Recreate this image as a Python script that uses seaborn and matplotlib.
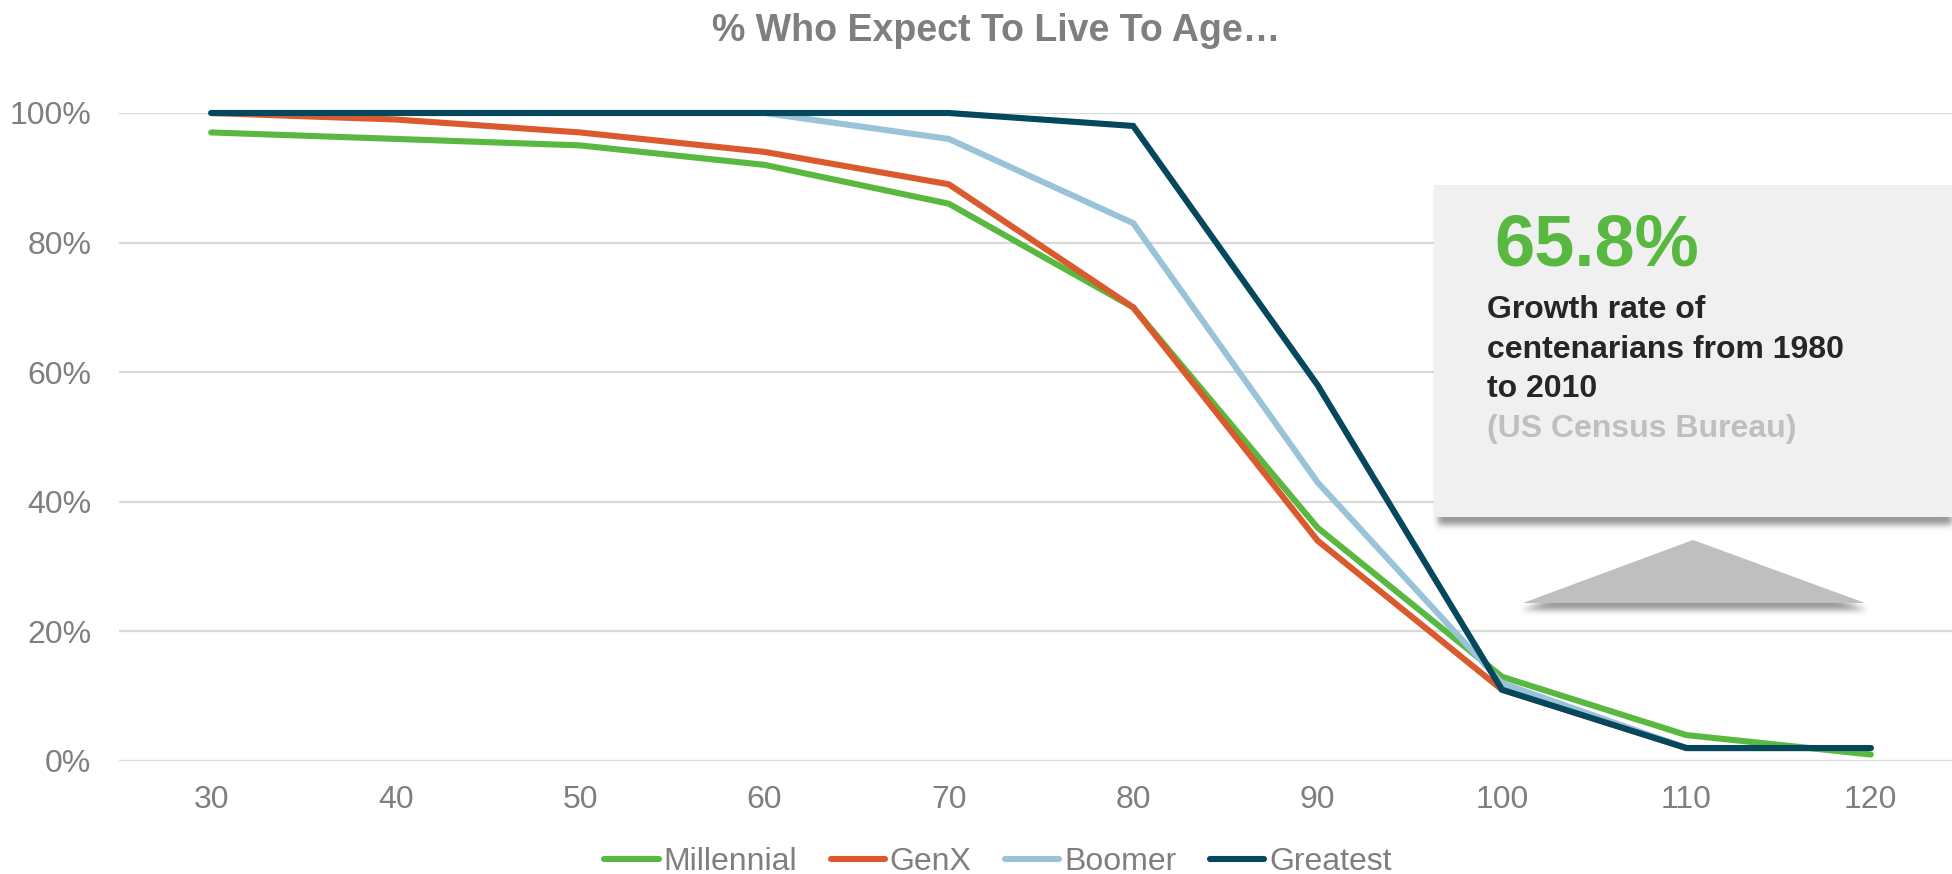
import matplotlib
matplotlib.use("Agg")
import matplotlib.pyplot as plt
from matplotlib.lines import Line2D
from matplotlib.patches import Rectangle, Polygon
import seaborn as sns
import pandas as pd
import numpy as np

# Survey data: share (%) of each generation who expect to live to a given age
ages = [30, 40, 50, 60, 70, 80, 90, 100, 110, 120]
millennial = [97, 96, 95, 92, 86, 70, 36, 13, 4, 1]
genx = [100, 99, 97, 94, 89, 70, 34, 11, 2, 2]
boomer = [100, 100, 100, 100, 96, 83, 43, 12, 2, 2]
greatest = [100, 100, 100, 100, 100, 98, 58, 11, 2, 2]

generations = ["Millennial", "GenX", "Boomer", "Greatest"]
colors = ["#58B83F", "#DA5A2E", "#98C3D8", "#05475C"]
yticks = [0, 20, 40, 60, 80, 100]

title = "% Who Expect To Live To Age\u2026"
callout_value = "65.8%"
callout_lines = ["Growth rate of", "centenarians from 1980", "to 2010"]
callout_source = "(US Census Bureau)"

df = pd.DataFrame({
    "age": ages * 4,
    "pct": millennial + genx + boomer + greatest,
    "generation": sum([[g] * len(ages) for g in generations], []),
})

sns.set_theme(style="white")
plt.rcParams["font.family"] = ["Liberation Sans", "DejaVu Sans"]

W, H = 1952, 874
fig = plt.figure(figsize=(W / 100, H / 100), dpi=100)


def fx(x):
    return x / W


def fy(y):
    return 1 - y / H


LW = 4.4
ax = fig.add_axes([fx(119), fy(761), (1963 - 119) / W, (761 - 113) / H])
palette = dict(zip(generations, colors))
sns.lineplot(data=df, x="age", y="pct", hue="generation", hue_order=generations,
             palette=palette, sort=False, linewidth=LW, legend=False, ax=ax,
             solid_capstyle="round", solid_joinstyle="miter", clip_on=False, zorder=3)

ax.set_xlim(25, 125)
ax.set_ylim(0, 100)
ax.set_xticks(ages)
ax.set_xticklabels([str(a) for a in ages])
ax.set_yticks(yticks)
ax.set_yticklabels([f"{v}%" for v in yticks])
ax.set_xlabel("")
ax.set_ylabel("")
for s in ax.spines.values():
    s.set_visible(False)
ax.grid(axis="y", color="#D9D9D9", linewidth=1.6)
ax.grid(axis="x", visible=False)
ax.set_axisbelow(True)
ax.tick_params(axis="both", length=0, labelsize=23, labelcolor="#7F7F7F")
ax.tick_params(axis="x", pad=17)
ax.tick_params(axis="y", pad=20)

# Title
fig.text(fx(996), fy(41), title, ha="center", va="baseline", fontsize=27,
         fontweight="bold", color="#7F7F7F")

# Legend
handles = [Line2D([], [], color=c, linewidth=LW, solid_capstyle="round") for c in colors]
fig.legend(handles, generations, loc="center", bbox_to_anchor=(fx(998), fy(862)),
           ncol=4, frameon=False, fontsize=23, labelcolor="#7F7F7F",
           handlelength=1.7, handletextpad=0.15, columnspacing=1.05,
           borderaxespad=0, borderpad=0)

# Soft drop shadows for the callout panel and the arrowhead
bx0, by0, bx1, by1 = 1434, 185, 1960, 517
tri = [(1523, 603), (1693, 540), (1865, 603)]

yy, xx = np.mgrid[0:H, 0:W]
shadow = np.zeros((H, W))
shadow[(yy >= by0 + 7) & (yy <= by1 + 7) & (xx >= bx0 + 4)] = 1.0


def inside_triangle(px, py, p):
    (x1, y1), (x2, y2), (x3, y3) = p
    d1 = (px - x2) * (y1 - y2) - (x1 - x2) * (py - y2)
    d2 = (px - x3) * (y2 - y3) - (x2 - x3) * (py - y3)
    d3 = (px - x1) * (y3 - y1) - (x3 - x1) * (py - y1)
    neg = (d1 < 0) | (d2 < 0) | (d3 < 0)
    pos = (d1 > 0) | (d2 > 0) | (d3 > 0)
    return ~(neg & pos)


tri_sh = [(x, y + 6) for x, y in tri]
shadow[inside_triangle(xx, yy, tri_sh)] = 1.0


def gaussian_blur(a, sigma):
    r = int(3 * sigma)
    k = np.exp(-0.5 * (np.arange(-r, r + 1) / sigma) ** 2)
    k /= k.sum()
    a = np.apply_along_axis(lambda m: np.convolve(m, k, mode="same"), 0, a)
    a = np.apply_along_axis(lambda m: np.convolve(m, k, mode="same"), 1, a)
    return a


region = shadow[150:650, 1380:]
shadow[150:650, 1380:] = gaussian_blur(region, 3.0)
rgba = np.zeros((H, W, 4))
rgba[..., :3] = 0.33
rgba[..., 3] = np.clip(shadow, 0, 1) * 0.6
fig.figimage(rgba, xo=0, yo=0, origin="upper", zorder=4)

fig.add_artist(Rectangle((fx(bx0), fy(by1)), (bx1 - bx0) / W, (by1 - by0) / H,
                         transform=fig.transFigure, facecolor="#F0F0F0",
                         edgecolor="none", zorder=5))
fig.add_artist(Polygon([(fx(x), fy(y)) for x, y in tri], closed=True,
                       transform=fig.transFigure, facecolor="#BFBFBF",
                       edgecolor="none", zorder=5))

fig.text(fx(1494), fy(265), callout_value, ha="left", va="baseline", fontsize=52,
         fontweight="bold", color="#58B83F", zorder=6)
for i, line in enumerate(callout_lines):
    fig.text(fx(1487), fy(318 + 39.5 * i), line, ha="left", va="baseline",
             fontsize=23, fontweight="bold", color="#262626", zorder=6)
fig.text(fx(1487), fy(318 + 39.5 * 3), callout_source, ha="left", va="baseline",
         fontsize=23, fontweight="bold", color="#BFBFBF", zorder=6)

fig.savefig("out.png", dpi=100, facecolor="white")
